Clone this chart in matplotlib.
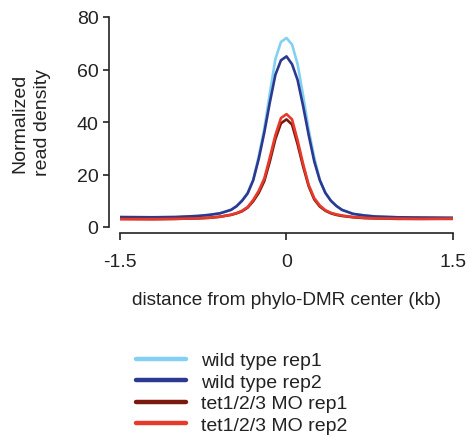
import numpy as np
import matplotlib
matplotlib.use("Agg")
import matplotlib.pyplot as plt
from matplotlib.lines import Line2D

plt.rcParams['font.family'] = ['Liberation Sans', 'DejaVu Sans']

# distance from center (kb)
distance = [-1.5, -1.2, -1.0, -0.8, -0.7, -0.6, -0.5, -0.45, -0.4, -0.35, -0.3, -0.25,
            -0.2, -0.15, -0.1, -0.05, 0.0, 0.05, 0.1, 0.15, 0.2, 0.25, 0.3, 0.35,
            0.4, 0.45, 0.5, 0.6, 0.7, 0.8, 1.0, 1.2, 1.5]

wt_rep1 = [3.7, 3.7, 3.8, 4.2, 4.6, 5.2, 6.6, 8.0, 10.2, 13.0, 18.0, 27.0,
           37.5, 51.0, 64.0, 70.5, 72.0, 69.5, 62.0, 50.0, 37.0, 26.5, 18.0, 13.0,
           10.0, 8.0, 6.6, 5.0, 4.4, 4.0, 3.7, 3.6, 3.5]
wt_rep2 = [3.8, 3.7, 3.8, 4.2, 4.6, 5.2, 6.5, 7.9, 10.0, 12.8, 17.8, 26.0,
           36.0, 47.5, 58.0, 63.5, 65.0, 62.0, 56.0, 46.0, 35.0, 25.0, 17.8, 13.0,
           10.0, 8.0, 6.5, 5.0, 4.4, 4.0, 3.7, 3.6, 3.5]
tet_rep1 = [3.1, 3.0, 3.1, 3.3, 3.5, 3.9, 4.6, 5.2, 6.0, 7.4, 9.8, 13.0,
            17.5, 25.0, 33.5, 39.5, 41.0, 39.0, 31.5, 23.0, 15.5, 10.5, 7.8, 6.2,
            5.2, 4.6, 4.2, 3.7, 3.4, 3.3, 3.1, 3.1, 3.1]
tet_rep2 = [3.0, 3.0, 3.1, 3.3, 3.5, 3.9, 4.7, 5.3, 6.2, 7.6, 10.3, 13.8,
            18.5, 26.5, 35.0, 41.5, 43.0, 41.0, 33.0, 24.0, 16.0, 11.0, 8.2, 6.4,
            5.4, 4.8, 4.4, 3.8, 3.5, 3.3, 3.2, 3.1, 3.2]

labels = ["wild type rep1", "wild type rep2", "tet1/2/3 MO rep1", "tet1/2/3 MO rep2"]
couleurs = ["#83D0F3", "#2B3990", "#7A1A0E", "#E63A2A"]
series = [wt_rep1, wt_rep2, tet_rep1, tet_rep2]

fig = plt.figure(figsize=(4.70, 4.39), dpi=100)
ax = fig.add_axes([120 / 470, 1 - 228 / 439, 333 / 470, 210 / 439])

for y, c in zip(series, couleurs):
    ax.plot(distance, y, color=c, linewidth=1.9, solid_joinstyle='round')

ax.set_xlim(-1.5, 1.5)
ax.set_ylim(0, 80)
ax.set_xticks([-1.5, 0, 1.5])
ax.set_xticklabels(["-1.5", "0", "1.5"])
ax.set_yticks([0, 20, 40, 60, 80])

# axes style R
for s in ["top", "right"]:
    ax.spines[s].set_visible(False)
ax.spines["left"].set_position(("outward", 8))
ax.spines["bottom"].set_position(("outward", 4.5))
ax.spines["left"].set_bounds(0, 80)
ax.spines["bottom"].set_bounds(-1.5, 1.5)
for s in ["left", "bottom"]:
    ax.spines[s].set_linewidth(1.2)
    ax.spines[s].set_color("#222222")
ax.tick_params(axis="y", length=4.5, width=1.2, pad=3, labelsize=14, colors="#222222")
ax.tick_params(axis="x", length=5, width=1.2, pad=9, labelsize=14, colors="#222222")

ax.set_xlabel("distance from phylo-DMR center (kb)", fontsize=13.7, labelpad=15, color="#222222")
fig.text(31 / 470, 1 - 123 / 439, "Normalized\nread density", rotation=90, fontsize=14,
         ha="center", va="center", color="#222222", linespacing=1.4)

handles = [Line2D([0], [0], color=c, linewidth=3.2, solid_capstyle='round') for c in couleurs]
fig.legend(handles, labels, loc="upper left", bbox_to_anchor=(126 / 470, 1 - 343 / 439),
           frameon=False, fontsize=14, handlelength=2.6, handletextpad=0.75,
           labelspacing=0.2, borderpad=0, labelcolor="#222222")

fig.savefig("out.png", dpi=100)
